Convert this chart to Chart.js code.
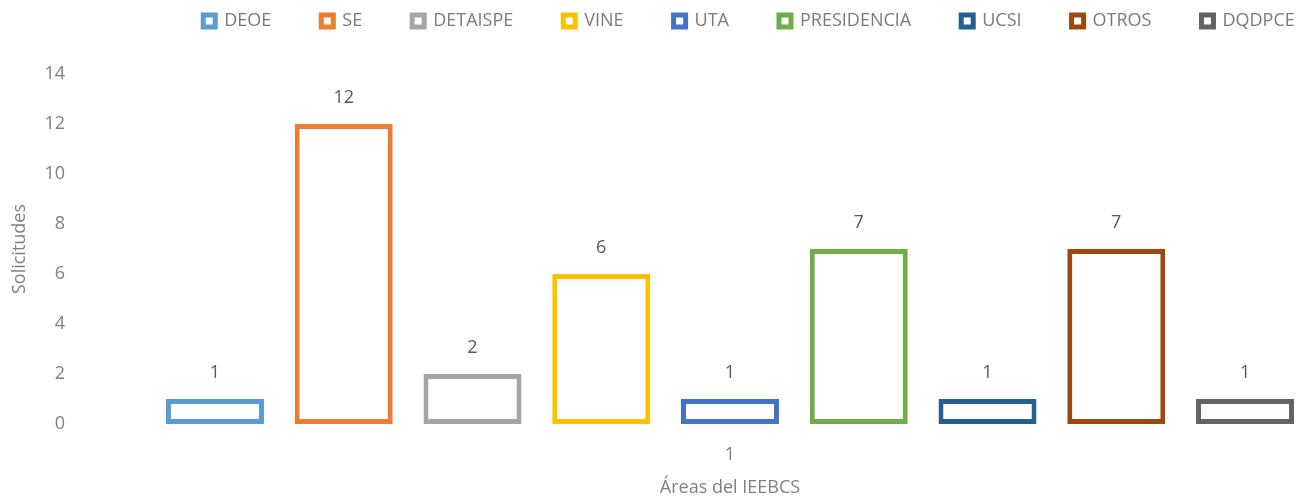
<!DOCTYPE html>
<html lang="es">
<head>
    <meta charset="UTF-8">
    <title>Solicitudes por área</title>
    <script src="https://cdn.jsdelivr.net/npm/chart.js"></script>
    <style>
        html, body {
            margin: 0;
            padding: 0;
            background: #ffffff;
            overflow: hidden;
        }
        .chart-container {
            width: 1372px; /* más ancho que la ventana, como el original recortado */
            height: 499px;
        }
    </style>
</head>
<body>

<div class="chart-container">
    <canvas id="areasChart"></canvas>
</div>

<script>
    const categories = ['1'];
    const areas = ['DEOE', 'SE', 'DETAISPE', 'VINE', 'UTA', 'PRESIDENCIA', 'UCSI', 'OTROS', 'DQDPCE'];
    const solicitudes = [1, 12, 2, 6, 1, 7, 1, 7, 1];
    const areaColors = ['#5B9BD5', '#ED7D31', '#A5A5A5', '#FFC000', '#4472C4', '#70AD47', '#255E91', '#9E480E', '#636363'];
    const yTicks = [0, 2, 4, 6, 8, 10, 12, 14];

    const fontFamily = '"Open Sans", "Noto Sans", sans-serif';
    const grayText = '#808080';
    const legendPadding = 50;

    // etiquetas de valor encima de cada barra
    const valueLabels = {
        id: 'valueLabels',
        afterDatasetsDraw(chart) {
            const ctx = chart.ctx;
            ctx.save();
            ctx.font = '18px ' + fontFamily;
            ctx.fillStyle = '#595959';
            ctx.textAlign = 'center';
            ctx.textBaseline = 'middle';
            chart.data.datasets.forEach((ds, i) => {
                chart.getDatasetMeta(i).data.forEach((bar, j) => {
                    ctx.fillText(ds.data[j], bar.x, bar.y - 26);
                });
            });
            ctx.restore();
        }
    };

    // altura fija para la leyenda, que además va un poco más arriba y a la derecha
    const legendTweak = {
        id: 'legendTweak',
        beforeInit(chart) {
            const originalFit = chart.legend.fit;
            chart.legend.fit = function fit() {
                originalFit.bind(chart.legend)();
                this.height = 74;
            };
        },
        afterLayout(chart) {
            chart.legend.left += 63;
            chart.legend.right += 63;
            chart.legend.top -= legendPadding - 12;
        }
    };

    const ctx = document.getElementById('areasChart').getContext('2d');

    new Chart(ctx, {
        type: 'bar',
        data: {
            labels: categories,
            datasets: areas.map((area, i) => ({
                label: area,
                data: [solicitudes[i]],
                backgroundColor: '#ffffff',
                borderColor: areaColors[i],
                borderWidth: 5,
                borderSkipped: false,
                categoryPercentage: 0.9025,
                barPercentage: 0.761
            }))
        },
        options: {
            responsive: true,
            maintainAspectRatio: false,
            animation: false,
            layout: { padding: 0 },
            plugins: {
                legend: {
                    position: 'top',
                    labels: {
                        boxWidth: 12,
                        boxHeight: 12,
                        padding: legendPadding,
                        color: '#7a7a7a',
                        font: { family: fontFamily, size: 18 }
                    }
                },
                tooltip: { enabled: false }
            },
            scales: {
                x: {
                    grid: { display: false, drawTicks: false },
                    border: { display: false },
                    ticks: {
                        color: grayText,
                        padding: 20,
                        font: { family: fontFamily, size: 18 }
                    },
                    title: {
                        display: true,
                        text: 'Áreas del IEEBCS',
                        color: grayText,
                        padding: { top: 0, bottom: 0 },
                        font: { family: fontFamily, size: 18 }
                    },
                    afterFit(scale) { scale.height = 75; }
                },
                y: {
                    min: 0,
                    max: 14,
                    grid: { display: false, drawTicks: false },
                    border: { display: false },
                    afterBuildTicks(scale) {
                        scale.ticks = yTicks.map(v => ({ value: v }));
                    },
                    ticks: {
                        color: grayText,
                        padding: 23,
                        font: { family: fontFamily, size: 18 }
                    },
                    title: {
                        display: true,
                        text: 'Solicitudes',
                        color: grayText,
                        padding: { top: 9, bottom: 0 },
                        font: { family: fontFamily, size: 18 }
                    },
                    afterFit(scale) { scale.width = 88; }
                }
            }
        },
        plugins: [valueLabels, legendTweak]
    });
</script>

</body>
</html>
